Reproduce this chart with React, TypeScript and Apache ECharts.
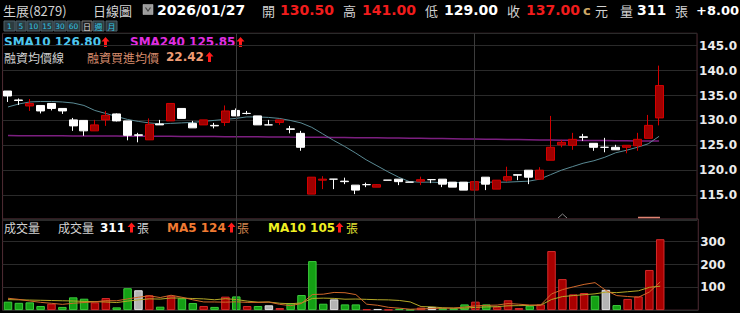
import React, { useEffect, useRef } from 'react';
import * as echarts from 'echarts';

// ---- data ----
const SLOTS = 64; // 61 trading days + 3 empty slots on the right
const days = Array.from({ length: SLOTS }, (_, i) => 'D' + (i + 1));
const opens = [135.9, 134.1, 132.9, 133.0, 133.4, 132.4, 130.1, 130.0, 127.9, 130.1, 131.3, 129.9, 127.1, 126.1, 129.3, 129.9, 132.4, 129.4, 129.1, 129.0, 129.6, 132.0, 131.4, 130.9, 129.1, 129.6, 128.3, 127.4, 115.2, 118.0, 118.2, 117.8, 117.0, 117.1, 116.6, 118.0, 118.2, 117.6, 117.8, 118.1, 118.2, 117.6, 117.6, 116.0, 118.6, 116.2, 118.0, 119.1, 120.0, 118.2, 122.0, 125.1, 125.0, 126.7, 125.4, 124.6, 124.6, 124.6, 124.9, 126.4, 130.5];
const closes = [134.9, 134.0, 133.4, 131.9, 132.4, 131.9, 128.9, 127.9, 129.1, 131.0, 129.9, 127.0, 127.0, 129.2, 129.1, 133.4, 130.4, 128.5, 130.1, 128.9, 131.9, 130.9, 131.4, 129.1, 129.1, 130.1, 128.2, 124.6, 118.6, 118.2, 118.2, 117.7, 116.0, 117.1, 117.1, 118.0, 117.7, 117.6, 118.1, 118.1, 117.2, 116.6, 116.0, 117.7, 117.2, 118.0, 118.7, 119.0, 118.6, 120.0, 124.6, 125.6, 126.2, 126.6, 124.6, 124.6, 124.1, 125.0, 126.2, 129.0, 137.0];
const lows = [133.7, 133.1, 131.9, 131.4, 132.0, 131.3, 127.9, 126.9, 127.9, 128.9, 129.8, 126.0, 125.6, 126.1, 129.1, 129.9, 130.4, 128.5, 129.1, 128.4, 128.9, 130.9, 131.2, 129.1, 129.1, 129.1, 127.4, 123.9, 115.2, 116.2, 116.2, 117.2, 115.2, 116.6, 116.6, 118.0, 117.0, 117.6, 117.0, 117.4, 116.6, 116.6, 116.0, 115.6, 116.0, 116.2, 117.7, 118.0, 117.2, 118.2, 122.0, 124.6, 124.1, 125.9, 123.9, 123.6, 124.1, 123.4, 123.9, 126.4, 129.0];
const highs = [135.9, 134.4, 134.3, 133.0, 133.4, 132.4, 130.5, 130.0, 130.1, 131.9, 131.4, 129.9, 127.5, 130.4, 130.1, 133.4, 132.4, 129.9, 130.1, 129.5, 133.0, 132.4, 131.9, 130.9, 130.1, 130.1, 128.9, 127.9, 118.6, 118.8, 118.2, 118.5, 117.0, 117.5, 117.2, 118.0, 118.2, 117.6, 118.7, 118.1, 118.2, 117.6, 117.6, 119.2, 118.6, 118.0, 120.7, 119.1, 120.0, 120.6, 130.9, 126.1, 127.5, 127.3, 125.4, 126.5, 125.1, 125.0, 127.5, 131.1, 141.0];
const volumes = [37, 32, 34, 18, 28, 14, 56, 50, 34, 53, 12, 96, 87, 65, 15, 63, 52, 31, 18, 14, 59, 60, 18, 18, 21, 9, 31, 66, 215, 28, 47, 25, 25, 4, 5, 2, 6, 2, 11, 14, 9, 8, 25, 37, 25, 15, 43, 9, 19, 25, 259, 136, 69, 75, 63, 89, 22, 49, 60, 176, 311];
const closeBeforeFirst = 135.6;
const prevCloseOfLast = 129.0;
const sma10 = [132.7, 133.3, 133.7, 133.8, 133.8, 133.7, 133.5, 133.0, 132.0, 131.4, 130.8, 130.2, 129.8, 129.5, 129.3, 129.4, 129.5, 129.6, 129.8, 130.0, 130.2, 130.4, 130.7, 130.7, 130.6, 130.4, 130.0, 129.5, 128.6, 127.3, 126.0, 124.8, 123.5, 122.1, 120.9, 119.7, 118.6, 117.7, 117.6, 117.6, 117.5, 117.5, 117.5, 117.6, 117.6, 117.6, 117.6, 117.7, 117.8, 118.2, 119.1, 120.0, 120.7, 121.4, 121.9, 122.6, 123.5, 124.0, 124.6, 125.3, 126.8];
const sma240 = [126.95, 126.94, 126.93, 126.92, 126.9, 126.9, 126.89, 126.87, 126.87, 126.86, 126.85, 126.83, 126.83, 126.82, 126.8, 126.8, 126.79, 126.78, 126.76, 126.75, 126.74, 126.72, 126.71, 126.7, 126.68, 126.67, 126.65, 126.64, 126.62, 126.6, 126.58, 126.56, 126.54, 126.52, 126.5, 126.48, 126.46, 126.43, 126.41, 126.38, 126.35, 126.32, 126.29, 126.26, 126.23, 126.2, 126.17, 126.14, 126.11, 126.08, 126.05, 126.02, 126.0, 125.98, 125.96, 125.94, 125.92, 125.9, 125.88, 125.87, 125.85];
const volMa5 = [52, 47, 40, 34, 29.8, 25.2, 30, 33.2, 36.4, 41.4, 41, 49, 56.4, 62.6, 55, 65.2, 56.4, 45.2, 35.8, 35.6, 34.8, 36.4, 33.8, 33.8, 35.2, 25.2, 19.4, 29, 68.4, 69.8, 77.4, 76.2, 68, 25.8, 21.2, 12.2, 8.4, 3.8, 5.2, 7, 8.4, 8.8, 13.4, 18.6, 20.8, 22, 29, 25.8, 22.2, 22.2, 71, 89.6, 101.6, 112.8, 120.4, 86.4, 63.6, 59.6, 56.6, 79.2, 123.6];
const volMa10 = [46, 45, 44, 43, 42, 41, 40, 38, 37, 35.6, 33.1, 39.5, 44.8, 49.5, 48.2, 53.1, 52.7, 50.8, 49.2, 45.3, 50, 46.4, 39.5, 34.8, 35.4, 30, 27.9, 31.4, 51.1, 52.5, 51.3, 47.8, 48.5, 47.1, 45.5, 44.8, 42.3, 35.9, 15.5, 14.1, 10.3, 8.6, 8.6, 11.9, 13.9, 15.2, 18.9, 19.6, 20.4, 21.5, 46.5, 59.3, 63.7, 67.5, 71.3, 78.7, 76.6, 80.6, 84.7, 99.8, 105];
const priceTicks = [115, 120, 125, 130, 135, 140, 145];
const volumeTicks = [100, 200, 300];
const monthStarts = [21, 43];
const stockName = '生展(8279)';
const quoteDate = '2026/01/27';
const marginAvgPrice = 22.42;
const periodButtons = ['1', '5', '10', '15', '30', '60', '日', '週', '月'];

// ---- styles ----
const CJK = '"Noto Sans CJK TC", "Noto Sans CJK SC", sans-serif';
const NUM = '"DejaVu Sans", Verdana, sans-serif';
const RED = '#f01c1c';
const GRAY_TXT = '#d2d2d2';

const txt = (text: string, x: number, y: number, fill: string, size: number, bold: boolean, family: string) => ({
  type: 'text',
  x,
  y,
  silent: true,
  style: {
    text,
    fill,
    fontSize: size,
    fontWeight: bold ? 'bold' : 'normal',
    fontFamily: family,
    align: 'left',
    verticalAlign: 'middle',
    textAlign: 'left',
    textVerticalAlign: 'middle',
  },
});

const arrow = (x: number, y: number) => ({
  type: 'polygon',
  silent: true,
  shape: {
    points: [[x + 3.5, y], [x + 7.5, y + 4.5], [x + 5, y + 4.5], [x + 5, y + 10], [x + 2, y + 10], [x + 2, y + 4.5], [x - 0.5, y + 4.5]],
  },
  style: { fill: '#ff1a1a' },
});

export default function App() {
  const ref = useRef<HTMLDivElement>(null);

  useEffect(() => {
    if (!ref.current) return;
    const chart = echarts.init(ref.current, undefined, { renderer: 'svg' });

    const n = closes.length;
    const last = n - 1;
    const candleData = opens.map((o, i) => {
      const item: any = { value: [o, closes[i], lows[i], highs[i]] };
      if (o === closes[i]) item.itemStyle = { color: '#ffffff', borderColor: '#ffffff', color0: '#ffffff', borderColor0: '#ffffff' };
      return item;
    });
    const volData = volumes.map((v, i) => {
      const prev = i === 0 ? closeBeforeFirst : closes[i - 1];
      const c = closes[i];
      let color = '#14a014', border = '#3ccc3c';
      if (c > prev) { color = '#a80000'; border = '#d42a2a'; }
      else if (c === prev) { color = '#b4b4b4'; border = '#e6e6e6'; }
      return { value: v, itemStyle: { color, borderColor: border, borderWidth: 1 } };
    });

    const fmt2 = (v: number) => v.toFixed(2);
    const change = closes[last] - prevCloseOfLast;

    // buttons
    const btnBoxes = [[4, 11], [16, 10], [27, 13], [41, 12], [54, 12], [67, 13], [82, 10], [93, 11], [106, 11]];
    const buttons: any[] = [];
    periodButtons.forEach((b, i) => {
      const [bx, bw] = btnBoxes[i];
      const sel = b === '日';
      buttons.push({
        type: 'rect',
        silent: true,
        shape: { x: bx, y: 21, width: bw, height: 10 },
        style: { fill: sel ? '#1e1e1e' : '#2c3b40', stroke: sel ? '#7a7a7a' : '#4e6068', lineWidth: 1 },
      });
      const t: any = txt(b, bx + bw / 2, 26.2, sel ? '#e0e0e0' : '#33c3e3', /^[0-9]+$/.test(b) ? 7.5 : 8, false, /^[0-9]+$/.test(b) ? NUM : CJK);
      t.style.align = 'center';
      t.style.textAlign = 'center';
      buttons.push(t);
    });

    const graphics: any[] = [
      // header line
      txt(stockName, 3, 10, GRAY_TXT, 13, false, CJK),
      txt('日線圖', 93, 10, GRAY_TXT, 13, false, CJK),
      { type: 'rect', silent: true, shape: { x: 143, y: 4.5, width: 10, height: 10 }, style: { fill: '#9c9c9c', stroke: '#c0c0c0', lineWidth: 0.5 } },
      { type: 'polyline', silent: true, shape: { points: [[145.5, 7.5], [148, 11], [150.5, 7.5]] }, style: { stroke: '#444', lineWidth: 1.2, fill: 'none' } },
      txt(quoteDate, 157, 10, '#ffffff', 14, true, NUM),
      txt('開', 262, 10, GRAY_TXT, 13, false, CJK),
      txt(fmt2(opens[last]), 280, 10, RED, 14, true, NUM),
      txt('高', 343, 10, GRAY_TXT, 13, false, CJK),
      txt(fmt2(highs[last]), 362, 10, RED, 14, true, NUM),
      txt('低', 425, 10, GRAY_TXT, 13, false, CJK),
      txt(fmt2(lows[last]), 444, 10, '#ffffff', 14, true, NUM),
      txt('收', 507, 10, GRAY_TXT, 13, false, CJK),
      txt(fmt2(closes[last]), 526, 10, RED, 14, true, NUM),
      txt('c', 583, 10, '#cfa866', 13, true, NUM),
      txt('元', 595, 10, GRAY_TXT, 13, false, CJK),
      txt('量', 620, 10, GRAY_TXT, 13, false, CJK),
      txt(String(volumes[last]), 637, 10, '#ffffff', 14, true, NUM),
      txt('張', 675, 10, GRAY_TXT, 13, false, CJK),
      txt((change >= 0 ? '+' : '') + fmt2(change), 696, 10, '#ffffff', 13, true, NUM),
      ...buttons,
      // price legends
      txt('SMA10 ' + fmt2(sma10[last]), 4, 42, '#4ec6ee', 12, true, NUM),
      arrow(102, 37),
      txt('SMA240 ' + fmt2(sma240[last]), 130, 42, '#e02ee0', 12, true, NUM),
      arrow(237, 37),
      txt('融資均價線', 4, 57, GRAY_TXT, 12, false, CJK),
      txt('融資買進均價', 87, 57, '#d98d6d', 12, false, CJK),
      txt(fmt2(marginAvgPrice), 166, 57, '#f09c74', 12, true, NUM),
      arrow(206, 52),
      // volume legends
      txt('成交量', 4, 227.5, GRAY_TXT, 12, false, CJK),
      txt('成交量', 58, 227.5, GRAY_TXT, 12, false, CJK),
      txt(String(volumes[last]), 100, 227.5, '#ffffff', 12, true, NUM),
      arrow(128, 222.5),
      txt('張', 137, 227.5, GRAY_TXT, 12, false, CJK),
      txt('MA5 ' + Math.round(volMa5[last]), 167, 227.5, '#f07a32', 12, true, NUM),
      arrow(228, 222.5),
      txt('張', 237, 227.5, '#d0844e', 12, false, CJK),
      txt('MA10 ' + Math.round(volMa10[last]), 268, 227.5, '#f0f022', 12, true, NUM),
      arrow(336, 222.5),
      txt('張', 346, 227.5, '#e0e032', 12, false, CJK),
      // small markers at the bottom of the price panel
      { type: 'polyline', silent: true, shape: { points: [[558, 218], [562.5, 214], [567, 218]] }, style: { stroke: '#8a8a8a', lineWidth: 1, fill: 'none' } },
      { type: 'line', silent: true, shape: { x1: 638, y1: 217.5, x2: 660, y2: 217.5 }, style: { stroke: '#e08472', lineWidth: 1.5 } },
    ];

    const monthLine = (lineColor: string) => ({
      silent: true,
      symbol: ['none', 'none'],
      label: { show: false },
      lineStyle: { color: lineColor, type: 'solid', width: 1 },
      data: monthStarts.map((i) => ({ xAxis: days[i] })),
      animation: false,
    });

    const gridCommon = { left: 2.57, width: 695.7, show: true, borderColor: '#4f2c34', borderWidth: 1, backgroundColor: 'transparent' };

    const option: any = {
      animation: false,
      backgroundColor: '#000000',
      textStyle: { fontFamily: NUM },
      grid: [
        { ...gridCommon, top: 33.25, height: 186.75 },
        { ...gridCommon, top: 218.9, height: 91.2 },
      ],
      xAxis: [0, 1].map((g) => ({
        type: 'category',
        gridIndex: g,
        data: days,
        boundaryGap: true,
        axisLine: { show: false },
        axisTick: { show: false },
        axisLabel: { show: false },
        splitLine: { show: false },
      })),
      yAxis: [
        {
          gridIndex: 0,
          type: 'value',
          position: 'right',
          min: 110,
          max: 147.5,
          interval: 5,
          axisLine: { show: false },
          axisTick: { show: false },
          axisLabel: {
            margin: 2,
            color: '#ececec',
            fontWeight: 'bold',
            fontSize: 12,
            fontFamily: NUM,
            formatter: (v: number) => (priceTicks.includes(v) ? v.toFixed(1) : ''),
          },
          splitLine: { lineStyle: { color: '#2a2a2a', width: 1 } },
        },
        {
          gridIndex: 1,
          type: 'value',
          position: 'right',
          min: 0,
          max: 400,
          interval: 100,
          axisLine: { show: false },
          axisTick: { show: false },
          axisLabel: {
            margin: 2,
            color: '#ececec',
            fontWeight: 'bold',
            fontSize: 12,
            fontFamily: NUM,
            formatter: (v: number) => (volumeTicks.includes(v) ? String(v) : ''),
          },
          splitLine: { lineStyle: { color: '#2a2a2a', width: 1 } },
        },
      ],
      series: [
        {
          type: 'line',
          xAxisIndex: 0,
          yAxisIndex: 0,
          data: sma240,
          symbol: 'none',
          lineStyle: { color: '#7c1f80', width: 1.5 },
          z: 1,
          markLine: monthLine('#3c3c3c'),
        },
        {
          type: 'line',
          xAxisIndex: 0,
          yAxisIndex: 0,
          data: sma10,
          symbol: 'none',
          smooth: false,
          lineStyle: { color: '#5a8a94', width: 1 },
          z: 2,
        },
        {
          type: 'candlestick',
          xAxisIndex: 0,
          yAxisIndex: 0,
          data: candleData,
          barWidth: 8.5,
          itemStyle: {
            color: '#a00000',
            color0: '#ffffff',
            borderColor: '#d40000',
            borderColor0: '#ffffff',
            borderWidth: 1,
          },
          z: 3,
        },
        {
          type: 'bar',
          xAxisIndex: 1,
          yAxisIndex: 1,
          data: volData,
          barWidth: 8.5,
          z: 2,
          markLine: monthLine('#3c3c3c'),
        },
        {
          type: 'line',
          xAxisIndex: 1,
          yAxisIndex: 1,
          data: volMa10,
          symbol: 'none',
          lineStyle: { color: '#b4a828', width: 1 },
          z: 3,
        },
        {
          type: 'line',
          xAxisIndex: 1,
          yAxisIndex: 1,
          data: volMa5,
          symbol: 'none',
          lineStyle: { color: '#d0682a', width: 1 },
          z: 4,
        },
      ],
      graphic: graphics,
    };

    chart.setOption(option);
    return () => chart.dispose();
  }, []);

  return (
    <div
      ref={ref}
      style={{ position: 'fixed', left: 0, top: 0, width: 740, height: 313, background: '#000' }}
    />
  );
}
